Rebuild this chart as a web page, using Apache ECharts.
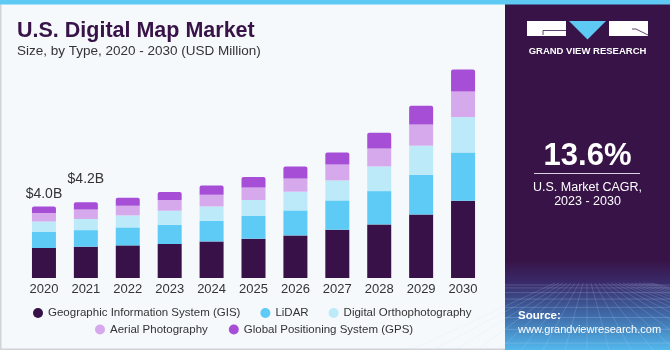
<!DOCTYPE html>
<html>
<head>
<meta charset="utf-8">
<script src="https://cdn.jsdelivr.net/npm/echarts@6/dist/echarts.min.js"></script>
<style>
html,body{margin:0;padding:0;background:#f5f9fc;}
#chart{width:670px;height:350px;}
</style>
</head>
<body>
<div id="chart"></div>
<script>
// ---- data (USD Million) ----
var years = ['2020','2021','2022','2023','2024','2025','2026','2027','2028','2029','2030'];
var gis   = [1667,1740,1811,1889,2033,2183,2367,2683,2978,3533,4294];
var lidar = [889, 920,1000,1072,1150,1261,1389,1628,1850,2206,2683];
var ortho = [583, 620, 667, 778, 794, 889,1039,1111,1372,1611,1961];
var aerial= [472, 530, 539, 594, 650, 700, 739, 889,1000,1183,1428];
var gps   = [361, 400, 444, 444, 517, 578, 667, 667, 872,1039,1222];
var topLabels = ['$4.0B','$4.2B','','','','','','','','',''];
var seriesNames = ['Geographic Information System (GIS)','LiDAR','Digital Orthophotography','Aerial Photography','Global Positioning System (GPS)'];
var seriesColors = ['#371147','#5ecbf7','#bdeaf9','#d5a9ec','#a64fd6'];
var cagrValue = '13.6%';
var cagrText = ['U.S. Market CAGR,','2023 - 2030'];

var chart = echarts.init(document.getElementById('chart'));
var FONT = 'Liberation Sans, Arial, sans-serif';
var labelDist = [5,16,5,5,5,5,5,5,5,5,5];
var allData = [gis, lidar, ortho, aerial, gps];

var series = allData.map(function(arr, si){
  var s = {
    name: seriesNames[si],
    type: 'bar',
    stack: 'total',
    barWidth: 24,
    itemStyle: {color: seriesColors[si]},
    data: arr.map(function(v, i){
      var d = {value: v};
      if (si === 4) {
        d.itemStyle = {borderRadius: [2,2,0,0]};
        d.label = {show: topLabels[i] !== '', distance: labelDist[i]};
      }
      return d;
    })
  };
  if (si === 4) {
    s.label = {
      show: true, position: 'top', color: '#333', fontSize: 14, fontFamily: FONT,
      formatter: function(p){ return topLabels[p.dataIndex]; }
    };
  }
  return s;
});

// perspective grid lines for the right panel bottom
var gridLines = [];
for (var k = 0; k < 9; k++) {
  var yy = 285 + k * k * 0.9 + k * 2;
  gridLines.push({type:'line', shape:{x1:505,y1:yy,x2:670,y2:yy}, style:{stroke:'rgba(200,225,255,0.25)',lineWidth:0.8}, silent:true});
}
for (var j = -8; j <= 16; j++) {
  gridLines.push({type:'line', shape:{x1:587 + j*4, y1:283, x2:587 + j*22, y2:350}, style:{stroke:'rgba(200,225,255,0.22)',lineWidth:0.8}, silent:true});
}

var graphics = [
  {type:'rect', shape:{x:0,y:0,width:670,height:350}, style:{fill:'#f5f9fc'}, z:-10, silent:true},
  {type:'rect', shape:{x:0,y:0,width:1.5,height:350}, style:{fill:'#d0d4d8'}, z:-9, silent:true},
  {type:'rect', shape:{x:0,y:348.5,width:670,height:1.5}, style:{fill:'#d0d4d8'}, z:-9, silent:true},
  {type:'rect', shape:{x:505,y:4,width:165,height:346}, style:{fill:'#371347'}, z:-8, silent:true},
  {type:'rect', shape:{x:505,y:260,width:165,height:90}, style:{fill:new echarts.graphic.LinearGradient(0,0,0,1,[
    {offset:0,color:'#371347'},{offset:0.25,color:'#3a2a69'},{offset:0.6,color:'#3f68a6'},{offset:1,color:'#52b8ec'}])}, z:-7, silent:true},
  {type:'group', children: gridLines, z:-6, silent:true},
  {type:'rect', shape:{x:0,y:0,width:670,height:4.5}, style:{fill:'#5ec9f3'}, z:-5, silent:true},
  // logo
  {type:'rect', shape:{x:527,y:21,width:39,height:15}, style:{fill:'#ffffff'}, silent:true},
  {type:'polyline', shape:{points:[[566,30.5],[543,30.5],[543,35]]}, style:{stroke:'#371347',lineWidth:0.8,fill:null}, silent:true},
  {type:'polygon', shape:{points:[[569,21],[606,21],[587.5,39.5]]}, style:{fill:'#5ec9f3'}, silent:true},
  {type:'rect', shape:{x:609,y:21,width:39,height:15}, style:{fill:'#ffffff'}, silent:true},
  {type:'polyline', shape:{points:[[632,29],[636,29],[648,35]]}, style:{stroke:'#371347',lineWidth:0.8,fill:null}, silent:true},
  {type:'text', style:{x:587.5,y:51,text:'GRAND VIEW RESEARCH',fill:'#ffffff',font:'bold 9.5px '+FONT,align:'center',verticalAlign:'middle',textLetterSpacing:1.4}, silent:true},
  // CAGR
  {type:'text', style:{x:587.5,y:156,text:cagrValue,fill:'#ffffff',font:'bold 31px '+FONT,align:'center',verticalAlign:'middle'}, silent:true},
  {type:'line', shape:{x1:534,y1:173.5,x2:640,y2:173.5}, style:{stroke:'#d8d0e0',lineWidth:1.2}, silent:true},
  {type:'text', style:{x:587.5,y:187.5,text:cagrText[0],fill:'#ffffff',font:'12.5px '+FONT,align:'center',verticalAlign:'middle'}, silent:true},
  {type:'text', style:{x:587.5,y:201.5,text:cagrText[1],fill:'#ffffff',font:'12.5px '+FONT,align:'center',verticalAlign:'middle'}, silent:true},
  // source
  {type:'text', style:{x:518,y:316,text:'Source:',fill:'#ffffff',font:'bold 11.5px '+FONT,align:'left',verticalAlign:'middle'}, silent:true},
  {type:'text', style:{x:518,y:330,text:'www.grandviewresearch.com',fill:'#ffffff',font:'11px '+FONT,align:'left',verticalAlign:'middle'}, silent:true}
];

var option = {
  backgroundColor: '#f5f9fc',
  animation: false,
  title: [
    {text:'U.S. Digital Map Market', left:12, top:15, textStyle:{fontSize:21.5, fontWeight:'bold', color:'#371347', fontFamily:FONT}},
    {text:'Size, by Type, 2020 - 2030 (USD Million)', left:12, top:39, textStyle:{fontSize:13.5, fontWeight:'normal', color:'#333333', fontFamily:FONT}}
  ],
  legend: [
    {data: seriesNames.slice(0,3), left:28, top:302, icon:'circle', itemWidth:10, itemHeight:10, itemGap:20,
     textStyle:{fontSize:11.5, color:'#333', fontFamily:FONT}},
    {data: seriesNames.slice(3), left:90, top:318.5, icon:'circle', itemWidth:10, itemHeight:10, itemGap:21,
     textStyle:{fontSize:11.5, color:'#333', fontFamily:FONT}}
  ],
  grid: {left:23, width:461, top:62, bottom:72, containLabel:false},
  xAxis: {
    type:'category', data: years,
    axisLine:{show:false}, axisTick:{show:false},
    axisLabel:{color:'#333', fontSize:13, margin:5, fontFamily:FONT}
  },
  yAxis: {type:'value', min:0, max:12000, show:false, splitLine:{show:false}},
  series: series,
  graphic: graphics
};
chart.setOption(option);
</script>
</body>
</html>
